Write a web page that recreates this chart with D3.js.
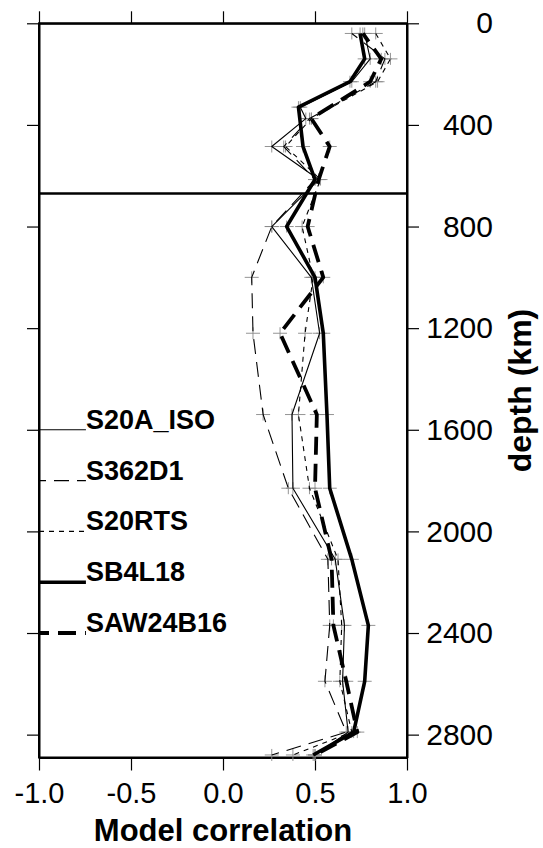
<!DOCTYPE html>
<html>
<head>
<meta charset="utf-8">
<script src="https://cdn.jsdelivr.net/npm/d3@7"></script>
<style>
  body { margin: 0; background: #fff; }
  svg { display: block; font-family: "Liberation Sans", Arial, Helvetica, sans-serif; }
  .axis path, .axis line { stroke: #000; }
  .axis text { fill: #000; }
</style>
</head>
<body>
<div id="chart"></div>
<script>
// Correlazione tra modelli tomografici in funzione della profondità
const W = 543, H = 848;

const xTicks     = [-1, -0.5, 0, 0.5, 1];
const depthTicks = [0, 400, 800, 1200, 1600, 2000, 2400, 2800];
const models     = ['S20A_ISO', 'S362D1', 'S20RTS', 'SB4L18', 'SAW24B16'];
const legendDepth = [1600, 1800, 2000, 2200, 2400];
const transitionDepth = 670;

// [profondità km, correlazione]
const S20A_ISO = [[40,0.77],[140,0.80],[230,0.70],[330,0.42],[375,0.45],[485,0.265],[615,0.52],
  [800,0.265],[1000,0.48],[1220,0.525],[1540,0.375],[1830,0.38],[2110,0.61],[2370,0.66],
  [2590,0.65],[2790,0.68],[2880,0.50]];
const S362D1 = [[40,0.70],[140,0.88],[230,0.83],[375,0.47],[485,0.33],[615,0.50],
  [800,0.265],[1000,0.156],[1220,0.163],[1540,0.218],[1830,0.355],[2110,0.57],[2370,0.58],
  [2590,0.554],[2790,0.67],[2880,0.265]];
const S20RTS = [[40,0.83],[140,0.91],[230,0.84],[375,0.48],[485,0.34],[615,0.53],
  [800,0.43],[1000,0.49],[1220,0.446],[1540,0.41],[1830,0.47],[2110,0.625],[2370,0.645],
  [2590,0.635],[2790,0.70],[2880,0.38]];
const SB4L18 = [[40,0.745],[140,0.77],[230,0.69],[330,0.41],[485,0.435],[615,0.50],
  [800,0.346],[1000,0.50],[1220,0.545],[1540,0.565],[1830,0.58],[2110,0.70],[2370,0.79],
  [2590,0.77],[2790,0.71],[2880,0.49]];
const SAW24B16 = [[40,0.76],[140,0.86],[230,0.80],[375,0.48],[485,0.58],[615,0.52],
  [800,0.46],[1000,0.545],[1220,0.31],[1540,0.51],[1830,0.50],[2110,0.59],[2370,0.60],
  [2590,0.67],[2790,0.73],[2880,0.50]];

const series = [S20A_ISO, S362D1, S20RTS, SB4L18, SAW24B16];

// stili delle linee
const lineStyle = [
  { w: 1.1, dash: null,   off: 0 },
  { w: 1.1, dash: '15,8', off: 8 },
  { w: 1.1, dash: '5,5',  off: 0 },
  { w: 3.6, dash: null,   off: 0 },
  { w: 3.8, dash: '18,9', off: 8 }
];

const svg = d3.select('#chart').append('svg')
  .attr('width', W).attr('height', H);

const x = d3.scaleLinear().domain([-1, 1]).range([39, 407]);
const y = d3.scaleLinear().domain([0, 2890]).range([23.3, 757.5]);

// cornice
svg.append('rect')
  .attr('x', x(-1)).attr('y', y(0))
  .attr('width', x(1) - x(-1)).attr('height', y(2890) - y(0))
  .attr('fill', 'none').attr('stroke', '#000').attr('stroke-width', 2);

// linea dei 670 km
svg.append('line')
  .attr('x1', x(-1)).attr('x2', x(1))
  .attr('y1', y(transitionDepth)).attr('y2', y(transitionDepth))
  .attr('stroke', '#000').attr('stroke-width', 2.6);

// assi
const fmt = d => d.toFixed(1);

svg.append('g').attr('class', 'axis')
  .attr('transform', `translate(0,${y(0)})`)
  .call(d3.axisTop(x).tickValues(xTicks).tickSize(12).tickSizeOuter(0).tickFormat(''));

const axBot = svg.append('g').attr('class', 'axis')
  .attr('transform', `translate(0,${y(2890)})`)
  .call(d3.axisBottom(x).tickValues(xTicks).tickSize(13).tickSizeOuter(0).tickPadding(12).tickFormat(fmt));
axBot.selectAll('text').attr('font-size', 29);

svg.append('g').attr('class', 'axis')
  .attr('transform', `translate(${x(-1)},0)`)
  .call(d3.axisLeft(y).tickValues(depthTicks).tickSize(12).tickSizeOuter(0).tickFormat(''));

const axRight = svg.append('g').attr('class', 'axis')
  .attr('transform', `translate(${x(1)},0)`)
  .call(d3.axisRight(y).tickValues(depthTicks).tickSize(12).tickSizeOuter(0).tickFormat(d => String(d)));
axRight.selectAll('text')
  .attr('font-size', 30)
  .attr('text-anchor', 'end')
  .attr('x', 86);

svg.selectAll('.axis path').attr('stroke-width', 2);
svg.selectAll('.axis line').attr('stroke-width', 1.2);

// marcatori "+"
const pts = series.flat();
svg.append('g').selectAll('path')
  .data(pts)
  .enter()
  .append('path')
  .attr('d', d => `M${x(d[1]) - 7},${y(d[0])}h14M${x(d[1])},${y(d[0]) - 6}v12`)
  .attr('stroke', '#888')
  .attr('stroke-width', 0.9)
  .attr('fill', 'none');

// curve
const line = d3.line().x(d => x(d[1])).y(d => y(d[0]));

svg.append('g').selectAll('path')
  .data(series)
  .enter()
  .append('path')
  .attr('d', line)
  .attr('fill', 'none')
  .attr('stroke', '#000')
  .attr('stroke-linejoin', 'round')
  .attr('stroke-width', (d, i) => lineStyle[i].w)
  .attr('stroke-dasharray', (d, i) => lineStyle[i].dash)
  .attr('stroke-dashoffset', (d, i) => lineStyle[i].off);

// legenda
const leg = svg.append('g').selectAll('g')
  .data(models)
  .enter()
  .append('g');

leg.append('line')
  .attr('x1', x(-1)).attr('x2', x(-0.745))
  .attr('y1', (d, i) => y(legendDepth[i]))
  .attr('y2', (d, i) => y(legendDepth[i]))
  .attr('stroke', '#000')
  .attr('stroke-width', (d, i) => lineStyle[i].w)
  .attr('stroke-dasharray', (d, i) => lineStyle[i].dash)
  .attr('stroke-dashoffset', (d, i) => lineStyle[i].off);

leg.append('text')
  .attr('x', x(-0.745))
  .attr('y', (d, i) => y(legendDepth[i]) - 1)
  .attr('font-size', 27)
  .attr('font-weight', 'bold')
  .text(d => d);

// titoli assi
svg.append('text')
  .attr('x', x(0))
  .attr('y', 841)
  .attr('text-anchor', 'middle')
  .attr('font-size', 31)
  .attr('font-weight', 'bold')
  .text('Model correlation');

svg.append('text')
  .attr('transform', `translate(531,${(308 + 473) / 2}) rotate(-90)`)
  .attr('text-anchor', 'middle')
  .attr('font-size', 32)
  .attr('font-weight', 'bold')
  .text('depth (km)');
</script>
</body>
</html>
